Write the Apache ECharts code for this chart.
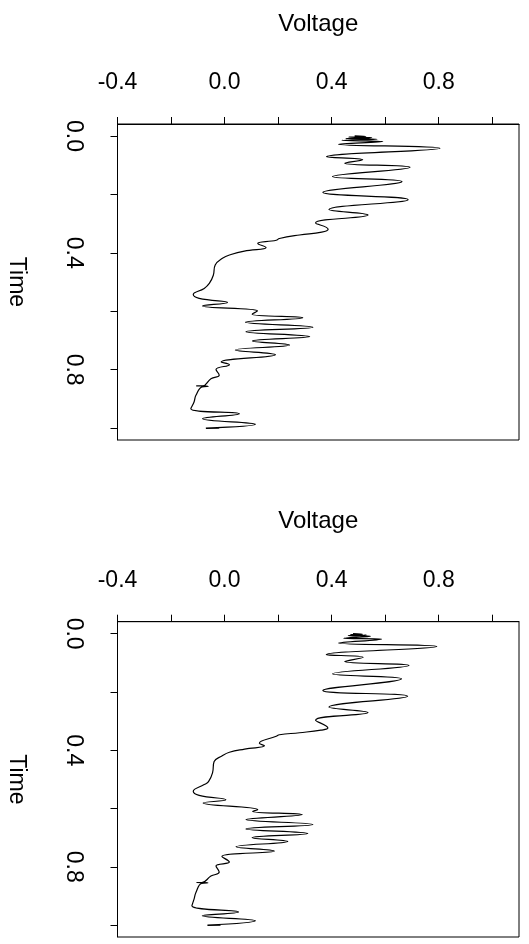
<!DOCTYPE html>
<html>
<head>
<meta charset="utf-8">
<title>Voltage vs Time</title>
<script src="https://cdn.jsdelivr.net/npm/echarts@6/dist/echarts.min.js"></script>
<style>
  html, body { margin: 0; padding: 0; background: #fff; }
  #chart { width: 529px; height: 944px; }
</style>
</head>
<body>
<div id="chart"></div>
<script>
// tick values and labels
var voltageTicks = [-0.4, -0.2, 0.0, 0.2, 0.4, 0.6, 0.8, 1.0]
var voltageLabels = [-0.4, 0.0, 0.4, 0.8]
var timeTicks = [0.0, 0.2, 0.4, 0.6, 0.8, 1.0]
var timeLabels = [0.0, 0.4, 0.8]

// upper panel trace
var voltageTop = [0.486, 0.528, 0.464, 0.550, 0.453, 0.569, 0.438, 0.591, 0.426, 0.805,
  0.381, 0.516, 0.449, 0.693, 0.403, 0.663, 0.367, 0.686, 0.390, 0.536,
  0.340, 0.387, 0.363, 0.280, 0.205, 0.193, 0.124, 0.155, 0.074, 0.024,
  -0.008, -0.035, -0.042, -0.057, -0.076, -0.117, -0.095, 0.011, -0.082, 0.123,
  0.103, 0.292, 0.078, 0.330, 0.080, 0.318, 0.104, 0.243, 0.040, 0.190,
  -0.013, 0.018, -0.032, -0.020, -0.051, -0.082, -0.106, -0.061, -0.084, -0.107,
  -0.114, -0.126, 0.055, -0.082, 0.115, -0.070, -0.020, -0.069]
var timeTop = [0.000, 0.002, 0.004, 0.006, 0.009, 0.011, 0.015, 0.019, 0.028, 0.042,
  0.071, 0.081, 0.093, 0.107, 0.139, 0.156, 0.193, 0.218, 0.252, 0.271,
  0.298, 0.319, 0.329, 0.339, 0.351, 0.357, 0.368, 0.382, 0.394, 0.406,
  0.419, 0.442, 0.477, 0.505, 0.522, 0.543, 0.556, 0.570, 0.582, 0.599,
  0.610, 0.622, 0.638, 0.655, 0.670, 0.687, 0.702, 0.716, 0.733, 0.749,
  0.774, 0.783, 0.800, 0.819, 0.831, 0.856, 0.856, 0.857, 0.859, 0.888,
  0.911, 0.934, 0.951, 0.968, 0.987, 1.000, 1.000, 1.001]

// lower panel trace
var voltageBottom = [0.480, 0.515, 0.470, 0.530, 0.462, 0.545, 0.445, 0.586, 0.426, 0.793,
  0.380, 0.518, 0.449, 0.689, 0.403, 0.661, 0.367, 0.684, 0.390, 0.536,
  0.340, 0.386, 0.360, 0.280, 0.205, 0.193, 0.130, 0.149, 0.075, 0.018,
  -0.010, -0.039, -0.045, -0.060, -0.076, -0.117, -0.095, 0.005, -0.080, 0.124,
  0.105, 0.290, 0.080, 0.330, 0.080, 0.311, 0.103, 0.236, 0.043, 0.186,
  -0.010, 0.018, -0.032, -0.020, -0.051, -0.085, -0.105, -0.062, -0.086, -0.107,
  -0.114, -0.122, 0.052, -0.083, 0.115, -0.064, -0.015, -0.064]
var timeBottom = [0.000, 0.002, 0.003, 0.005, 0.007, 0.009, 0.016, 0.019, 0.032, 0.044,
  0.072, 0.081, 0.096, 0.109, 0.138, 0.155, 0.195, 0.215, 0.252, 0.271,
  0.297, 0.324, 0.331, 0.340, 0.347, 0.352, 0.376, 0.385, 0.396, 0.407,
  0.420, 0.439, 0.478, 0.508, 0.518, 0.541, 0.555, 0.570, 0.581, 0.604,
  0.610, 0.621, 0.638, 0.655, 0.670, 0.686, 0.700, 0.713, 0.731, 0.746,
  0.765, 0.784, 0.797, 0.818, 0.832, 0.854, 0.854, 0.855, 0.857, 0.888,
  0.911, 0.934, 0.955, 0.968, 0.985, 1.000, 1.000, 1.001]

var font = 'Liberation Sans, Arial, sans-serif'

function pairs(v, t) {
  return v.map(function (x, i) { return [x, t[i]] })
}

function xAxisFor(gridIndex) {
  return {
    gridIndex: gridIndex,
    type: 'value',
    position: 'top',
    min: -0.4,
    max: 1.1,
    name: 'Voltage',
    nameLocation: 'middle',
    nameGap: 88,
    nameTextStyle: { color: '#000', fontSize: 24, fontFamily: font },
    axisLine: { show: true, onZero: false, lineStyle: { color: '#000', width: 1 } },
    axisTick: { show: true, inside: false, length: 7, customValues: voltageTicks, lineStyle: { color: '#000' } },
    axisLabel: {
      customValues: voltageLabels,
      margin: 30,
      color: '#000',
      fontSize: 23,
      fontFamily: font,
      formatter: function (v) { return v.toFixed(1) }
    },
    splitLine: { show: false }
  }
}

function yAxisFor(gridIndex) {
  return {
    gridIndex: gridIndex,
    type: 'value',
    inverse: true,
    min: -0.041,
    max: 1.041,
    name: 'Time',
    nameLocation: 'middle',
    nameRotate: -90,
    nameGap: 90,
    nameTextStyle: { color: '#000', fontSize: 23, fontFamily: font },
    axisLine: { show: true, onZero: false, lineStyle: { color: '#000', width: 1 } },
    axisTick: { show: true, inside: false, length: 7, customValues: timeTicks, lineStyle: { color: '#000' } },
    axisLabel: {
      customValues: timeLabels,
      rotate: -90,
      margin: 33,
      color: '#000',
      fontSize: 23,
      fontFamily: font,
      formatter: function (v) { return v.toFixed(1) }
    },
    splitLine: { show: false }
  }
}

var chart = echarts.init(document.getElementById('chart'))
var option = {
  backgroundColor: '#fff',
  animation: false,
  grid: [
    { left: 117.5, top: 124, width: 401.5, height: 316, outerBoundsMode: 'none', show: true, borderColor: '#000', borderWidth: 1, backgroundColor: 'transparent' },
    { left: 117.5, top: 621.7, width: 401.5, height: 315.3, outerBoundsMode: 'none', show: true, borderColor: '#000', borderWidth: 1, backgroundColor: 'transparent' }
  ],
  xAxis: [xAxisFor(0), xAxisFor(1)],
  yAxis: [yAxisFor(0), yAxisFor(1)],
  series: [
    {
      type: 'line',
      xAxisIndex: 0,
      yAxisIndex: 0,
      data: pairs(voltageTop, timeTop),
      showSymbol: false,
      smooth: 0.45,
      lineStyle: { color: '#000', width: 1.2 }
    },
    {
      type: 'line',
      xAxisIndex: 1,
      yAxisIndex: 1,
      data: pairs(voltageBottom, timeBottom),
      showSymbol: false,
      smooth: 0.45,
      lineStyle: { color: '#000', width: 1.2 }
    }
  ]
}
chart.setOption(option)
</script>
</body>
</html>
